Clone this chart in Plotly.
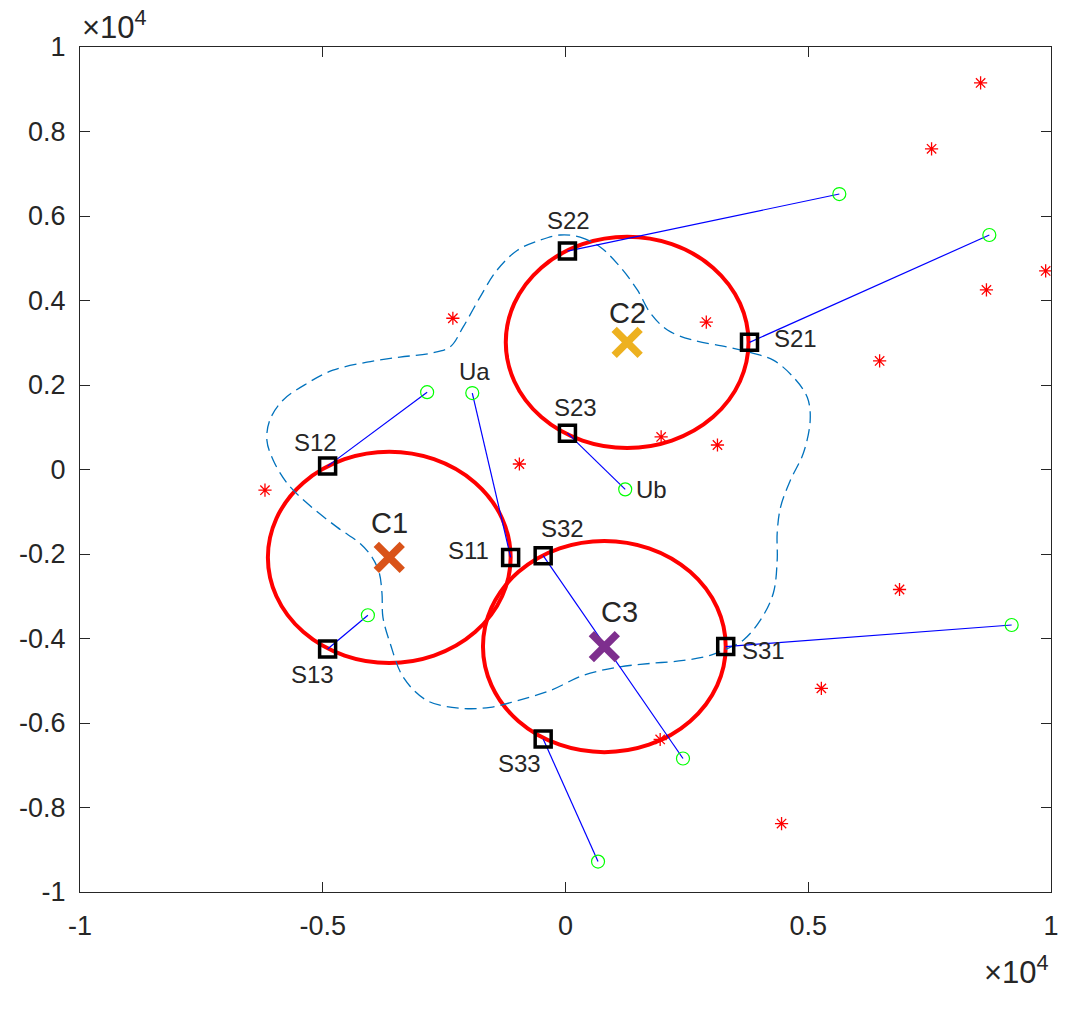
import plotly.graph_objects as go

# ---------------- data (units: metres, axis shown as x10^4) ----------------
cluster_names = ["C1", "C2", "C3"]
cluster_x = [-3630, 1270, 800]
cluster_y = [-2080, 3010, -4190]
cluster_colors = ["#D95319", "#EDB120", "#7E2F8E"]
cluster_radius = 2500

station_names = ["S11", "S12", "S13", "S21", "S22", "S23", "S31", "S32", "S33"]
station_x = [-1130, -4900, -4900, 3790, 40, 40, 3300, -460, -460]
station_y = [-2080, 80, -4250, 3010, 5170, 860, -4190, -2040, -6380]

user_names = ["Ua", "", "", "", "", "Ub", "", "", ""]
user_x = [-1920, -2850, -4070, 8730, 5640, 1230, 9190, 2420, 670]
user_y = [1810, 1830, -3450, 5550, 6520, -470, -3680, -6840, -9280]

other_x = [8550, 7540, 9890, 8670, 6470, 2900, -2320, 1970, 3130, -950, -6190, 6880, 5270, 1950, 4450]
other_y = [9150, 7590, 4700, 4250, 2570, 3490, 3580, 770, 580, 130, -490, -2840, -5180, -6390, -8380]

boundary_x = [-110, 300, 720, 1130, 1480, 1750, 2100, 2630, 3330, 3870, 4280, 4690, 4980,
              5040, 4900, 4630, 4430, 4360, 4360, 4280, 4010, 3660, 3250, 2980, 2430, 1750,
              1070, 370, -310, -990, -1550, -2170, -2850, -3340, -3610, -3760, -3780, -3840,
              -4000, -4230, -4700, -5320, -5730, -6020, -6150, -6090, -5820, -5320, -4790,
              -4090, -3410, -2790, -2380, -2110, -1760, -1410, -990, -520, -110]
boundary_y = [5550, 5500, 5260, 4790, 4250, 3700, 3300, 3060, 2900, 2750, 2590, 2190, 1710,
              1170, 390, -260, -890, -1510, -2150, -2930, -3570, -4040, -4280, -4400, -4520,
              -4590, -4680, -4870, -5230, -5470, -5630, -5650, -5470, -4920, -4120, -3500,
              -2930, -2430, -2050, -1750, -1370, -800, -330, 220, 690, 1170, 1640, 2040, 2350,
              2540, 2660, 2750, 2900, 3370, 4080, 4720, 5190, 5430, 5550]

tick_vals = [-10000, -8000, -6000, -4000, -2000, 0, 2000, 4000, 6000, 8000, 10000]
tick_text = ["-1", "-0.8", "-0.6", "-0.4", "-0.2", "0", "0.2", "0.4", "0.6", "0.8", "1"]
xtick_vals = [-10000, -5000, 0, 5000, 10000]
xtick_text = ["-1", "-0.5", "0", "0.5", "1"]

# label offsets in pixels (style)
station_label_shift = {
    "S11": (-42, 7), "S12": (-12, 24), "S13": (-15, -25), "S21": (46, 4), "S22": (1, 31),
    "S23": (8, 26), "S31": (38, -4), "S32": (19, 27), "S33": (-24, -24),
}
user_label_shift = {"Ua": (2, 22), "Ub": (26, 0)}
cluster_label_shift = {"C1": (0, 34), "C2": (0, 29), "C3": (15, 35)}

TXT = "#262626"
FONT = "Liberation Sans, Arial, Helvetica, sans-serif"

fig = go.Figure()

# coverage circles
for cx, cy in zip(cluster_x, cluster_y):
    fig.add_shape(type="circle", xref="x", yref="y",
                  x0=cx - cluster_radius, x1=cx + cluster_radius,
                  y0=cy - cluster_radius, y1=cy + cluster_radius,
                  line=dict(color="#FF0000", width=4), layer="below")

# dashed boundary
fig.add_trace(go.Scatter(x=boundary_x, y=boundary_y, mode="lines",
                         line=dict(color="#0072BD", width=1.3, dash="12px,6px",
                                   shape="spline", smoothing=1.0),
                         hoverinfo="skip", showlegend=False))

# links station <-> user
lx, ly = [], []
for sx, sy, ux, uy in zip(station_x, station_y, user_x, user_y):
    lx += [sx, ux, None]
    ly += [sy, uy, None]
fig.add_trace(go.Scatter(x=lx, y=ly, mode="lines",
                         line=dict(color="#0000FF", width=1.2),
                         hoverinfo="skip", showlegend=False))

# other users (red asterisks)
fig.add_trace(go.Scatter(x=other_x, y=other_y, mode="markers",
                         marker=dict(symbol="asterisk-open", size=11, color="#FF0000",
                                     line=dict(color="#FF0000", width=1.3)),
                         showlegend=False))

# served users (green circles)
fig.add_trace(go.Scatter(x=user_x, y=user_y, mode="markers",
                         marker=dict(symbol="circle-open", size=13, color="#00FF00",
                                     line=dict(color="#00FF00", width=1.2)),
                         showlegend=False))

# stations (black squares)
fig.add_trace(go.Scatter(x=station_x, y=station_y, mode="markers",
                         marker=dict(symbol="square-open", size=16, color="#000000",
                                     line=dict(color="#000000", width=3.5)),
                         showlegend=False))

# cluster centres
fig.add_trace(go.Scatter(x=cluster_x, y=cluster_y, mode="markers",
                         marker=dict(symbol="x-thin-open", size=26, color=cluster_colors,
                                     line=dict(color=cluster_colors, width=7.5)),
                         showlegend=False))

annotations = []
for n, x, y in zip(station_names, station_x, station_y):
    dx, dy = station_label_shift[n]
    annotations.append(dict(x=x, y=y, xref="x", yref="y", text=n, showarrow=False,
                            xshift=dx, yshift=dy, font=dict(size=24, color=TXT, family=FONT)))
for n, x, y in zip(user_names, user_x, user_y):
    if n:
        dx, dy = user_label_shift[n]
        annotations.append(dict(x=x, y=y, xref="x", yref="y", text=n, showarrow=False,
                                xshift=dx, yshift=dy, font=dict(size=24, color=TXT, family=FONT)))
for n, x, y in zip(cluster_names, cluster_x, cluster_y):
    dx, dy = cluster_label_shift[n]
    annotations.append(dict(x=x, y=y, xref="x", yref="y", text=n, showarrow=False,
                            xshift=dx, yshift=dy, font=dict(size=29, color=TXT, family=FONT)))

# exponent labels
annotations.append(dict(x=0, y=1, xref="paper", yref="paper", xanchor="left", yanchor="bottom",
                        text="×10<sup>4</sup>", showarrow=False, yshift=0,
                        font=dict(size=31, color=TXT, family=FONT)))
annotations.append(dict(x=1, y=0, xref="paper", yref="paper", xanchor="right", yanchor="top",
                        text="×10<sup>4</sup>", showarrow=False, yshift=-56,
                        font=dict(size=31, color=TXT, family=FONT)))

axis_common = dict(showgrid=False, zeroline=False, showline=True, linecolor=TXT, linewidth=1,
                   mirror="ticks", ticks="inside", ticklen=10, tickcolor=TXT, tickwidth=1,
                   tickfont=dict(size=27, color=TXT, family=FONT))

fig.update_layout(
    width=1088, height=1013,
    margin=dict(l=80, r=37, t=47, b=121),
    paper_bgcolor="white", plot_bgcolor="white",
    xaxis=dict(range=[-10000, 10000], tickvals=xtick_vals, ticktext=xtick_text,
               ticklabelstandoff=10, **axis_common),
    yaxis=dict(range=[-10000, 10000], tickvals=tick_vals, ticktext=tick_text,
               ticklabelstandoff=8, **axis_common),
    annotations=annotations,
    showlegend=False,
)

fig.write_html("out.html")
